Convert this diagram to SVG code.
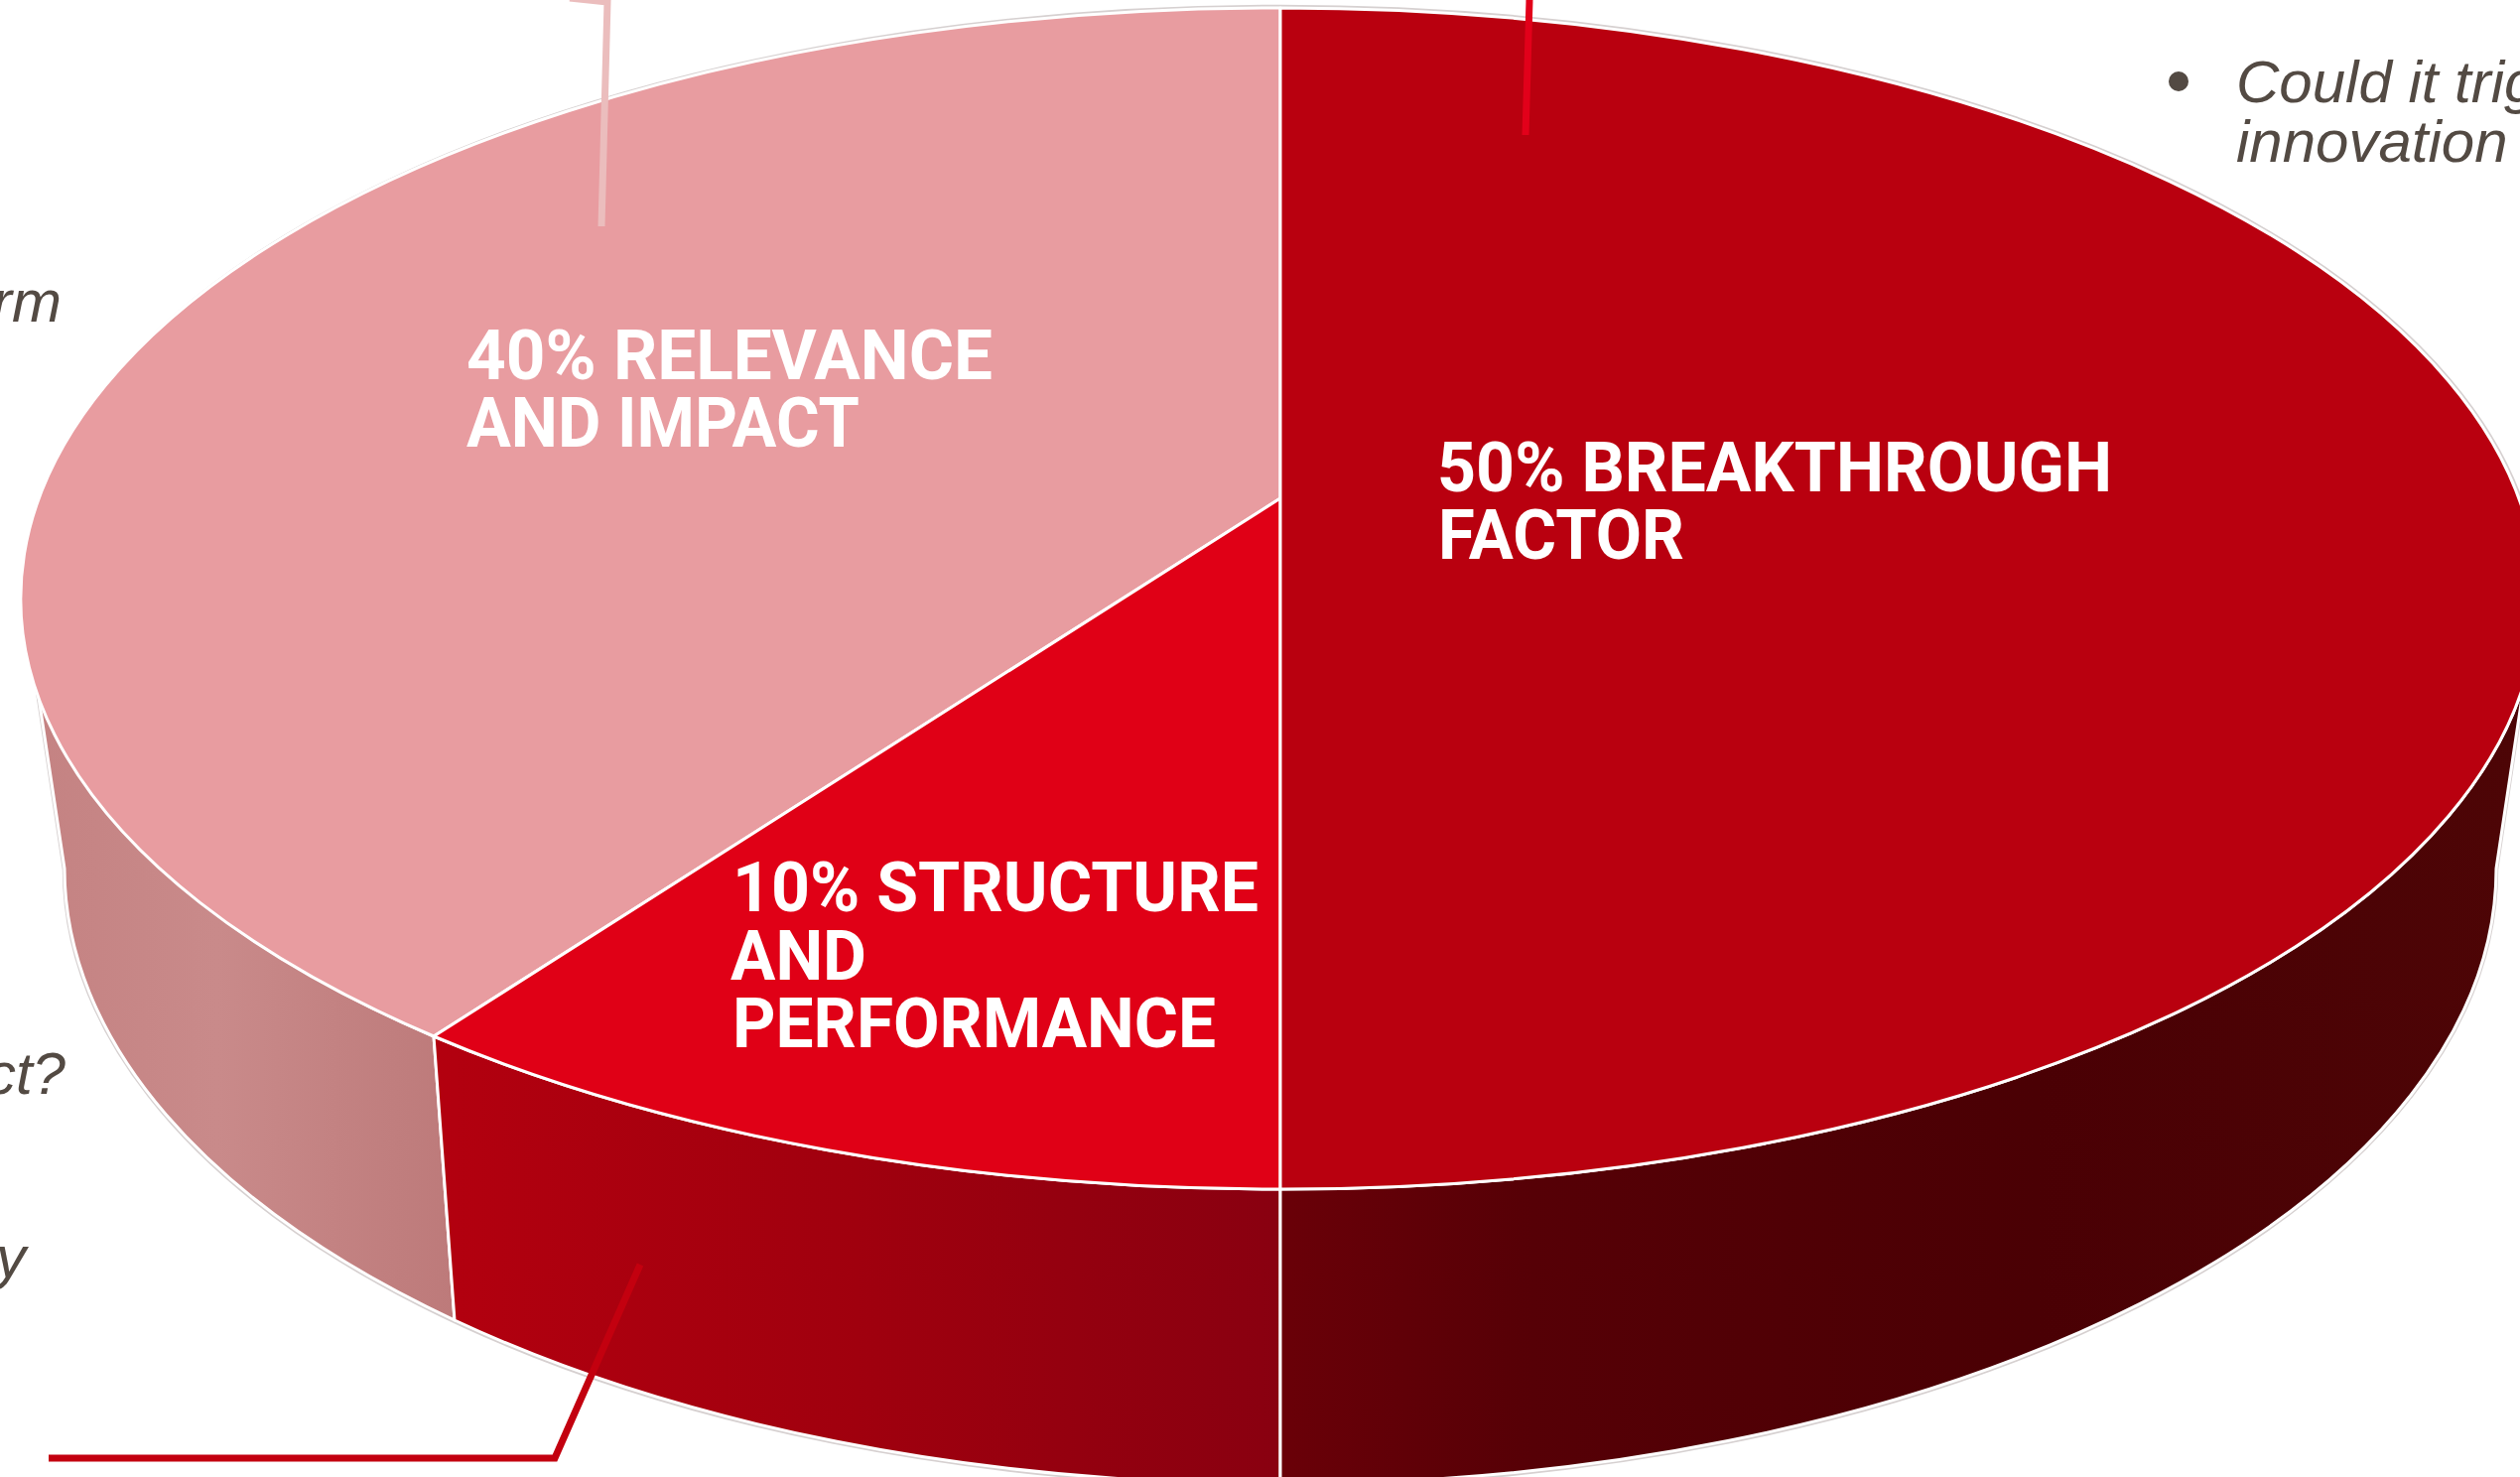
<svg xmlns="http://www.w3.org/2000/svg" width="2539" height="1488" viewBox="0 0 2539 1488">
<style>
.lbl{font-family:Roboto,"Liberation Sans",Arial,sans-serif;font-weight:700;font-size:70px;fill:#ffffff}
.note{font-family:"Liberation Sans",Arial,sans-serif;font-style:italic;font-size:60px;fill:#534a43}
.face{stroke:#ffffff;stroke-width:3;stroke-linejoin:round}
.rim{fill:none;stroke:#d6d0d0;stroke-width:2.5}
.lead{fill:none;stroke-width:7;stroke-linejoin:miter}
</style>
<defs>
<linearGradient id="gPink" gradientUnits="userSpaceOnUse" x1="24" y1="0" x2="458" y2="0">
<stop offset="0" stop-color="#c48282"/><stop offset="0.45" stop-color="#c98a8a"/><stop offset="1" stop-color="#bd7a7a"/>
</linearGradient>
<linearGradient id="gRed" gradientUnits="userSpaceOnUse" x1="437" y1="0" x2="1290" y2="0">
<stop offset="0" stop-color="#b3000f"/><stop offset="0.5" stop-color="#a0000e"/><stop offset="1" stop-color="#890010"/>
</linearGradient>
<linearGradient id="gDark" gradientUnits="userSpaceOnUse" x1="1290" y1="0" x2="2556" y2="0">
<stop offset="0" stop-color="#6a0008"/><stop offset="0.2" stop-color="#560006"/><stop offset="0.6" stop-color="#4a0004"/><stop offset="1" stop-color="#4d0506"/>
</linearGradient>
</defs>
<rect x="0" y="0" width="2539" height="1488" fill="#ffffff"/>

<g id="rim">
<path class="rim" d="M22,603 A1268,597 0 0 1 2558,603"/>
<path class="rim" d="M23,603 L64,876 A1226,621 0 0 0 2516,876 L2557,603"/>
</g>

<g id="slice-relevance">
<path class="face" fill="url(#gPink)" d="M24,603 L65,875 A1225,620 0 0 0 458,1330 L437,1044 A1266,595 0 0 1 24,603 Z"/>
<path class="face" fill="#e89ca0" d="M1290,502 L1290,8 A1266,595 0 0 0 437,1044 Z"/>
<text class="lbl" x="470" y="382" textLength="530" lengthAdjust="spacingAndGlyphs">40% RELEVANCE</text>
<text class="lbl" x="470" y="450" textLength="396" lengthAdjust="spacingAndGlyphs">AND IMPACT</text>
</g>

<g id="slice-structure">
<path class="face" fill="url(#gRed)" d="M437,1044 L458,1330 A1225,620 0 0 0 1290,1495 L1290,1198 A1266,595 0 0 1 437,1044 Z"/>
<path class="face" fill="#e00016" d="M1290,502 L437,1044 A1266,595 0 0 0 1290,1198 Z"/>
<text class="lbl" x="738" y="918" textLength="530" lengthAdjust="spacingAndGlyphs">10% STRUCTURE</text>
<text class="lbl" x="736" y="987" textLength="137" lengthAdjust="spacingAndGlyphs">AND</text>
<text class="lbl" x="738" y="1055" textLength="487" lengthAdjust="spacingAndGlyphs">PERFORMANCE</text>
</g>

<g id="slice-breakthrough">
<path class="face" fill="url(#gDark)" d="M1290,1198 L1290,1495 A1225,620 0 0 0 2515,875 L2556,603 A1266,595 0 0 1 1290,1198 Z"/>
<path class="face" fill="#b9000f" d="M1290,502 L1290,1198 A1266,595 0 0 0 2556,603 A1266,595 0 0 0 1290,8 Z"/>
<text class="lbl" x="1448" y="495" textLength="680" lengthAdjust="spacingAndGlyphs">50% BREAKTHROUGH</text>
<text class="lbl" x="1449" y="563" textLength="248" lengthAdjust="spacingAndGlyphs">FACTOR</text>
</g>

<g id="connectors">
<polyline class="lead" stroke="#ebbdbd" points="574,-2 612,2 606,228"/>
<line class="lead" stroke="#e2001a" stroke-width="6" x1="1541" y1="0" x2="1537" y2="136"/>
<polyline class="lead" stroke="#c3000f" points="49,1469 559,1469 645,1274"/>
</g>

<g id="note-left-1"><text class="note" x="62" y="324" text-anchor="end">rm</text></g>
<g id="note-left-2"><text class="note" x="66" y="1102" text-anchor="end">ct?</text></g>
<g id="note-left-3"><text class="note" x="26" y="1287" text-anchor="end">y</text></g>
<g id="note-right">
<circle cx="2195" cy="82" r="10" fill="#534a43"/>
<text class="note" x="2253" y="103">Could it trig</text>
<text class="note" x="2253" y="163">innovation</text>
</g>
</svg>
